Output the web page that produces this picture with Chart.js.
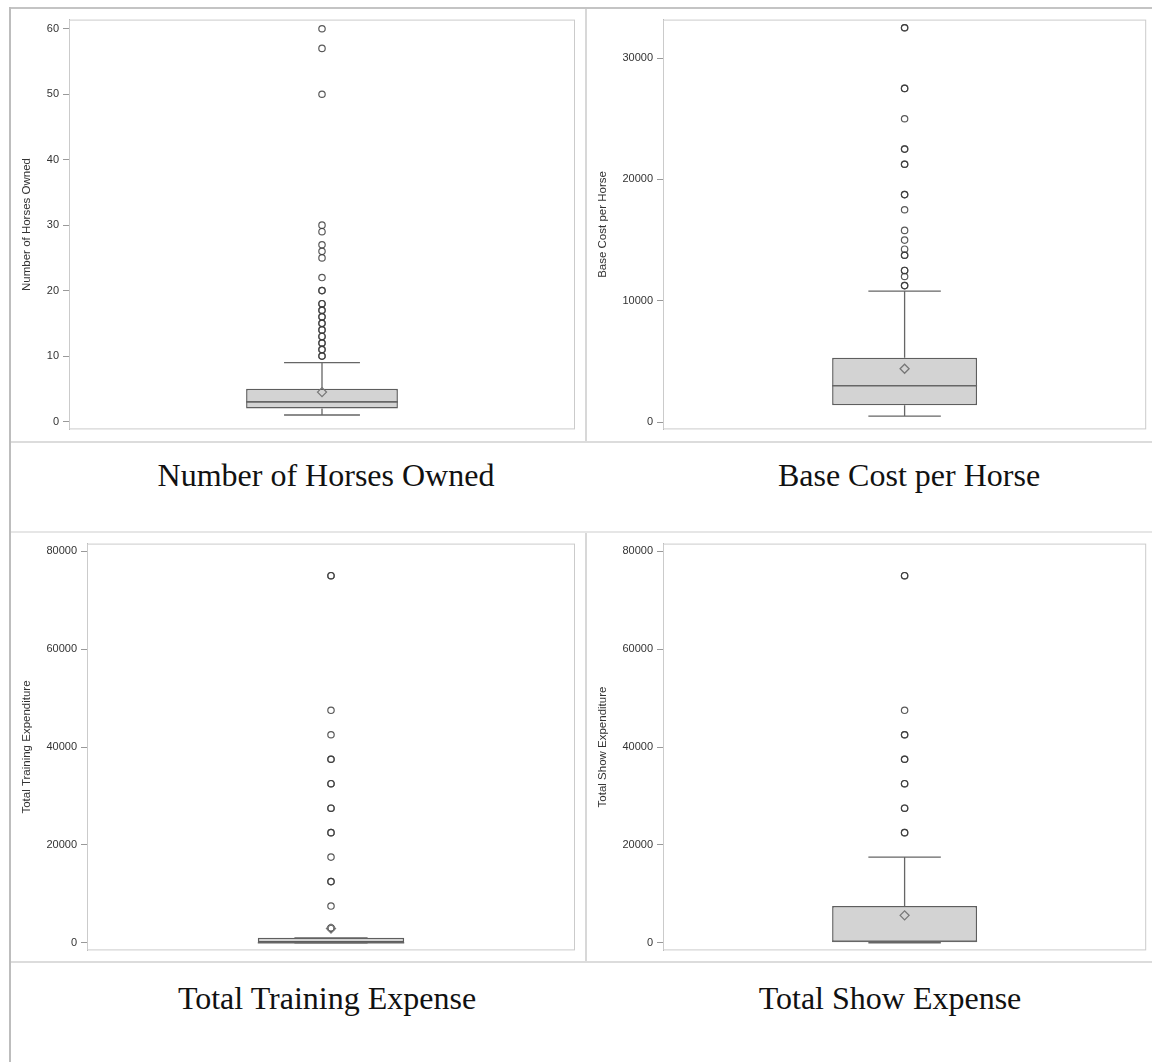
<!DOCTYPE html>
<html>
<head>
<meta charset="utf-8">
<script src="https://cdn.jsdelivr.net/npm/chart.js@4.4.0/dist/chart.umd.min.js"></script>
<style>
  body { margin: 0; background: #fff; }
  #page { position: relative; width: 1152px; height: 1062px; overflow: hidden; background: #fff; }
  .rule { position: absolute; }
  .panel { position: absolute; }
  .caption { position: absolute; font: 32px/32px "Liberation Serif", "Times New Roman", serif; color: #111;
             white-space: nowrap; transform: translateX(-50%); }
</style>
</head>
<body>
<div id="page">
  <div class="rule" style="left:9px;top:7px;width:1143px;height:2px;background:#c4c4c4"></div>
  <div class="rule" style="left:9px;top:7px;width:2px;height:1055px;background:#bdbdbd"></div>
  <div class="rule" style="left:11px;top:441px;width:1141px;height:2px;background:#dcdcdc"></div>
  <div class="rule" style="left:11px;top:531px;width:1141px;height:2px;background:#e6e6e6"></div>
  <div class="rule" style="left:11px;top:961px;width:1141px;height:2px;background:#dcdcdc"></div>
  <div class="rule" style="left:585px;top:9px;width:2px;height:432px;background:#d8d8d8"></div>
  <div class="rule" style="left:585px;top:533px;width:2px;height:428px;background:#d8d8d8"></div>

  <canvas id="horses" class="panel" style="left:12px;top:9px" width="572" height="431"></canvas>
  <canvas id="cost" class="panel" style="left:588px;top:9px" width="564" height="431"></canvas>
  <canvas id="training" class="panel" style="left:12px;top:533px" width="572" height="428"></canvas>
  <canvas id="show" class="panel" style="left:588px;top:533px" width="564" height="428"></canvas>

  <div class="caption" id="cap0" style="left:326px;top:459px"></div>
  <div class="caption" id="cap1" style="left:909px;top:459px"></div>
  <div class="caption" id="cap2" style="left:327px;top:982px"></div>
  <div class="caption" id="cap3" style="left:890px;top:982px"></div>
</div>
<script>
// captions under each plot and the y axis titles inside them
const captions = ['Number of Horses Owned', 'Base Cost per Horse', 'Total Training Expense', 'Total Show Expense'];
const axisTitles = ['Number of Horses Owned', 'Base Cost per Horse', 'Total Training Expenditure', 'Total Show Expenditure'];

// box plot summary per variable
const q1 = [2, 1400, 0, 0];
const median = [3, 3000, 0, 300];
const q3 = [5, 5300, 1000, 7500];
const whiskerLow = [1, 500, 0, 0];
const whiskerHigh = [9, 10800, 1000, 17500];
const means = [4.5, 4400, 2900, 5600];

// outliers (repeated values = several owners at the same value)
const horsesOutliers = [10, 10, 11, 11, 12, 12, 13, 13, 14, 14, 15, 15, 16, 16, 17, 17, 18, 18, 20, 20, 22, 25, 26, 27, 29, 30, 50, 57, 60];
const costOutliers = [11250, 11250, 12000, 12500, 12500, 13750, 13750, 14250, 15000, 15800, 17500, 18750, 18750,
  21250, 21250, 22500, 22500, 25000, 27500, 27500, 32500, 32500];
const trainingOutliers = [3000, 3000, 7500, 12500, 12500, 17500, 22500, 22500, 27500, 27500, 32500, 32500,
  37500, 37500, 42500, 47500, 75000, 75000];
const showOutliers = [22500, 22500, 27500, 27500, 32500, 32500, 37500, 37500, 42500, 42500, 47500, 75000, 75000];

// tick labels
const horsesTicks = [0, 10, 20, 30, 40, 50, 60];
const costTicks = [0, 10000, 20000, 30000];
const expenseTicks = [0, 20000, 40000, 60000, 80000];

const axisFont = '"Liberation Sans", Arial, sans-serif';

// whiskers, caps and median line drawn right after the box
const boxParts = {
  id: 'boxParts',
  afterDatasetDraw(chart, args) {
    if (args.index !== 0) return;
    const i = chart.options.plugins.boxParts.index;
    const bar = args.meta.data[0];
    const y = chart.scales.y;
    const ctx = chart.ctx;
    const cx = bar.x;
    const half = bar.width / 2;
    const cap = bar.width / 4;
    ctx.save();
    ctx.strokeStyle = '#666';
    ctx.lineWidth = 1.3;
    ctx.beginPath();
    ctx.moveTo(cx, y.getPixelForValue(q3[i]));
    ctx.lineTo(cx, y.getPixelForValue(whiskerHigh[i]));
    ctx.moveTo(cx, y.getPixelForValue(q1[i]));
    ctx.lineTo(cx, y.getPixelForValue(whiskerLow[i]));
    ctx.moveTo(cx - cap, y.getPixelForValue(whiskerHigh[i]));
    ctx.lineTo(cx + cap, y.getPixelForValue(whiskerHigh[i]));
    ctx.moveTo(cx - cap, y.getPixelForValue(whiskerLow[i]));
    ctx.lineTo(cx + cap, y.getPixelForValue(whiskerLow[i]));
    ctx.stroke();
    ctx.lineWidth = 1.6;
    ctx.beginPath();
    ctx.moveTo(cx - half, y.getPixelForValue(median[i]));
    ctx.lineTo(cx + half, y.getPixelForValue(median[i]));
    ctx.stroke();
    ctx.restore();
  },
  afterDraw(chart) {
    const a = chart.chartArea;
    const ctx = chart.ctx;
    ctx.save();
    ctx.strokeStyle = '#cbcbcb';
    ctx.lineWidth = 1;
    ctx.strokeRect(a.left + 0.5, a.top + 0.5, a.right - a.left - 1, a.bottom - a.top - 1);
    ctx.restore();
  }
};

function drawBox(canvasId, i, outliers, ticks, yMin, yMax, pad) {
  const label = captions[i];
  return new Chart(document.getElementById(canvasId), {
    type: 'bar',
    data: {
      labels: [label],
      datasets: [
        {
          type: 'bar',
          data: [[q1[i], q3[i]]],
          backgroundColor: '#d3d3d3',
          borderColor: '#5e5e5e',
          borderWidth: 1.5,
          borderSkipped: false,
          barPercentage: 0.3,
          categoryPercentage: 1,
          order: 2
        },
        {
          type: 'line',
          data: outliers.map(v => ({ x: label, y: v })),
          showLine: false,
          pointStyle: 'circle',
          pointRadius: 3.2,
          pointBorderWidth: 1.2,
          pointBorderColor: 'rgba(60,60,60,0.85)',
          pointBackgroundColor: 'rgba(0,0,0,0)',
          order: 1
        },
        {
          type: 'line',
          data: [{ x: label, y: means[i] }],
          showLine: false,
          pointStyle: 'rectRot',
          pointRadius: 4.5,
          pointBorderWidth: 1.3,
          pointBorderColor: '#777',
          pointBackgroundColor: 'rgba(0,0,0,0)',
          order: 0
        }
      ]
    },
    options: {
      responsive: false,
      animation: false,
      layout: { padding: { top: pad.top, right: pad.right, bottom: pad.bottom, left: 0 } },
      plugins: {
        legend: { display: false },
        tooltip: { enabled: false },
        boxParts: { index: i }
      },
      scales: {
        x: { display: false },
        y: {
          min: yMin,
          max: yMax,
          afterBuildTicks: s => { s.ticks = ticks.map(v => ({ value: v })); },
          afterFit: s => { s.width = pad.left; },
          grid: { drawOnChartArea: false, tickLength: 6, color: '#999' },
          border: { color: '#b5b5b5' },
          ticks: {
            font: { family: axisFont, size: 11 },
            color: '#333',
            padding: 4,
            callback: v => String(v)
          },
          title: {
            display: true,
            text: axisTitles[i],
            font: { family: axisFont, size: 11.5 },
            color: '#333',
            padding: { top: 8, bottom: 0 }
          }
        }
      }
    },
    plugins: [boxParts]
  });
}

drawBox('horses', 0, horsesOutliers, horsesTicks, -1.2, 61.4, { top: 10, right: 9, bottom: 9, left: 57 });
drawBox('cost', 1, costOutliers, costTicks, -600, 33170, { top: 10, right: 2, bottom: 10, left: 75 });
drawBox('training', 2, trainingOutliers, expenseTicks, -1560, 81560, { top: 8, right: 9, bottom: 10, left: 75 });
drawBox('show', 3, showOutliers, expenseTicks, -1560, 81560, { top: 8, right: 1, bottom: 10, left: 75 });

captions.forEach((c, k) => { document.getElementById('cap' + k).textContent = c; });
</script>
</body>
</html>
